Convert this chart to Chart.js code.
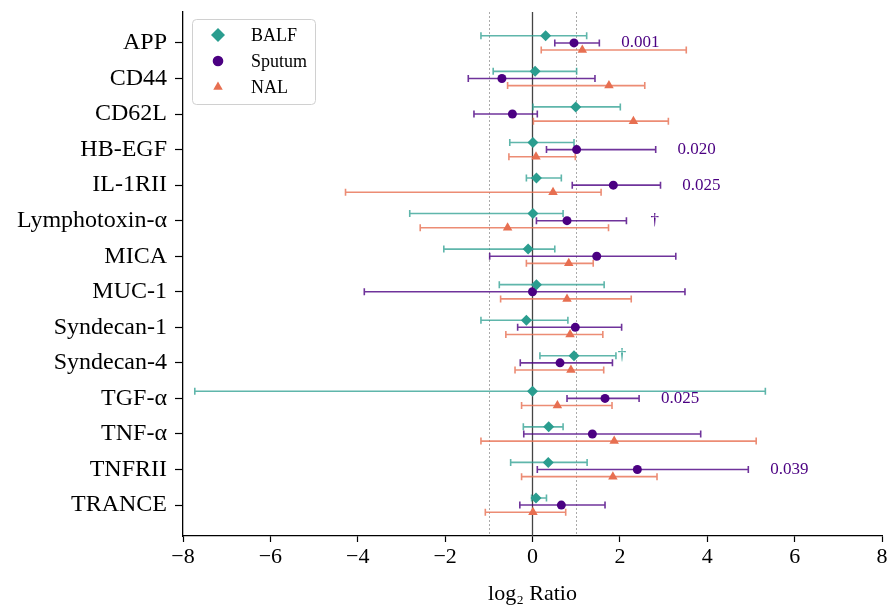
<!DOCTYPE html>
<html>
<head>
<meta charset="utf-8">
<script src="https://cdn.jsdelivr.net/npm/chart.js@4.4.0/dist/chart.umd.min.js"></script>
<style>
    html, body { margin: 0; padding: 0; background: #fff; }
    #wrap { width: 890px; height: 607px; }
</style>
</head>
<body>
<div id="wrap"><canvas id="myChart" width="890" height="607"></canvas></div>
<script>
const categories = ['APP', 'CD44', 'CD62L', 'HB-EGF', 'IL-1RII', 'Lymphotoxin-α', 'MICA', 'MUC-1',
    'Syndecan-1', 'Syndecan-4', 'TGF-α', 'TNF-α', 'TNFRII', 'TRANCE'];

// log2 ratio with lower / upper ends of the interval
const balfValues = [0.30, 0.06, 0.99, 0.01, 0.09, 0.01, -0.10, 0.09, -0.14, 0.95, 0.00, 0.37, 0.36, 0.08];
const balfLow = [-1.18, -0.90, 0.01, -0.52, -0.14, -2.81, -2.03, -0.76, -1.18, 0.17, -7.73, -0.21, -0.50, -0.02];
const balfHigh = [1.24, 1.01, 2.01, 0.95, 0.66, 0.70, 0.51, 1.64, 0.81, 1.91, 5.33, 0.70, 1.25, 0.32];

const sputumValues = [0.95, -0.70, -0.46, 1.01, 1.85, 0.79, 1.47, 0.00, 0.98, 0.63, 1.66, 1.37, 2.40, 0.66];
const sputumLow = [0.51, -1.47, -1.34, 0.32, 0.91, 0.09, -0.98, -3.85, -0.34, -0.28, 0.79, -0.20, 0.11, -0.29];
const sputumHigh = [1.53, 1.43, 0.11, 2.82, 2.93, 2.15, 3.28, 3.49, 2.04, 1.83, 2.44, 3.85, 4.94, 1.66];

const nalValues = [1.14, 1.75, 2.31, 0.08, 0.47, -0.57, 0.83, 0.79, 0.86, 0.88, 0.57, 1.87, 1.84, 0.01];
const nalLow = [0.20, -0.57, 0.02, -0.54, -4.28, -2.57, -0.14, -0.73, -0.61, -0.40, -0.25, -1.18, -0.25, -1.08];
const nalHigh = [3.52, 2.57, 3.11, 0.98, 1.57, 1.74, 1.39, 2.26, 1.61, 1.63, 1.82, 5.12, 2.85, 0.76];

// p-values / marks written next to the sputum and BALF intervals
const sputumP = ['0.001', null, null, '0.020', '0.025', null, null, null, null, null, '0.025', null, '0.039', null];
const sputumMark = [null, null, null, null, null, '†', null, null, null, null, null, null, null, null];
const balfMark = [null, null, null, null, null, null, null, null, null, '†', null, null, null, null];

const xTicks = [-8, -6, -4, -2, 0, 2, 4, 6, 8];

const FONT = "'Liberation Serif', 'Times New Roman', serif";

const series = [
    {label: 'BALF', values: balfValues, low: balfLow, high: balfHigh, offset: -0.2,
        color: '#2a9d8f', barColor: 'rgba(42,157,143,0.75)', style: 'rectRot', radius: 5.5},
    {label: 'Sputum', values: sputumValues, low: sputumLow, high: sputumHigh, offset: 0,
        color: '#4b0082', barColor: 'rgba(75,0,130,0.8)', style: 'circle', radius: 4.5},
    {label: 'NAL', values: nalValues, low: nalLow, high: nalHigh, offset: 0.2,
        color: '#e76f51', barColor: 'rgba(231,111,81,0.8)', style: 'triangle', radius: 5.5}
];

const errorBars = {
    id: 'errorBars',
    beforeDatasetsDraw(chart) {
        const {ctx, chartArea, scales: {x, y}} = chart;
        ctx.save();
        // reference lines at -1, 0, 1
        ctx.lineWidth = 1;
        ctx.strokeStyle = '#aaaaaa';
        ctx.setLineDash([2, 2]);
        [-1, 1].forEach(v => {
            const px = Math.round(x.getPixelForValue(v)) + 0.5;
            ctx.beginPath();
            ctx.moveTo(px, chartArea.top);
            ctx.lineTo(px, chartArea.bottom);
            ctx.stroke();
        });
        ctx.setLineDash([]);
        ctx.strokeStyle = '#444444';
        ctx.lineWidth = 1.3;
        const p0 = x.getPixelForValue(0);
        ctx.beginPath();
        ctx.moveTo(p0, chartArea.top);
        ctx.lineTo(p0, chartArea.bottom);
        ctx.stroke();

        const cap = 3.5;
        series.forEach(s => {
            ctx.strokeStyle = s.barColor;
            ctx.lineWidth = 1.6;
            s.low.forEach((lo, i) => {
                const py = y.getPixelForValue(i + s.offset);
                const x1 = x.getPixelForValue(lo);
                const x2 = x.getPixelForValue(s.high[i]);
                ctx.beginPath();
                ctx.moveTo(x1, py); ctx.lineTo(x2, py);
                ctx.moveTo(x1, py - cap); ctx.lineTo(x1, py + cap);
                ctx.moveTo(x2, py - cap); ctx.lineTo(x2, py + cap);
                ctx.stroke();
            });
        });
        ctx.restore();
    },
    afterDatasetsDraw(chart) {
        const {ctx, scales: {x, y}} = chart;
        ctx.save();
        ctx.textBaseline = 'middle';
        ctx.textAlign = 'left';
        ctx.font = '17px ' + FONT;
        ctx.fillStyle = '#4b0082';
        sputumP.forEach((t, i) => {
            if (!t) return;
            ctx.fillText(t, x.getPixelForValue(sputumHigh[i] + 0.5), y.getPixelForValue(i));
        });
        sputumMark.forEach((t, i) => {
            if (!t) return;
            ctx.fillText(t, x.getPixelForValue(sputumHigh[i] + 0.55), y.getPixelForValue(i));
        });
        ctx.fillStyle = '#2a9d8f';
        balfMark.forEach((t, i) => {
            if (!t) return;
            ctx.fillText(t, x.getPixelForValue(balfHigh[i] + 0.04), y.getPixelForValue(i - 0.2));
        });
        ctx.restore();
    },
    afterDraw(chart) {
        // legend box in the upper left corner of the plot
        const ctx = chart.ctx;
        ctx.save();
        const bx = 192, by = 19, bw = 123, bh = 85;
        ctx.beginPath();
        ctx.roundRect(bx + 0.5, by + 0.5, bw, bh, 4);
        ctx.fillStyle = 'rgba(255,255,255,0.8)';
        ctx.fill();
        ctx.strokeStyle = '#d0d0d0';
        ctx.lineWidth = 1;
        ctx.stroke();
        const legendRadius = {rectRot: 7, circle: 5.3, triangle: 5.5};
        series.forEach((s, k) => {
            const cy = by + 16 + k * 26;
            ctx.fillStyle = s.color;
            ctx.strokeStyle = s.color;
            Chart.helpers.drawPoint(ctx, {pointStyle: s.style, radius: legendRadius[s.style], borderWidth: 0}, 218, cy);
            ctx.fillStyle = '#000';
            ctx.font = '18px ' + FONT;
            ctx.textBaseline = 'middle';
            ctx.textAlign = 'left';
            ctx.fillText(s.label, 251, cy + 1);
        });
        ctx.restore();
    }
};

const datasets = series.map(s => ({
    label: s.label,
    data: s.values.map((v, i) => ({x: v, y: i + s.offset})),
    pointStyle: s.style,
    pointRadius: s.radius,
    pointBackgroundColor: s.color,
    pointBorderColor: s.color,
    pointBorderWidth: 0,
    showLine: false
}));

const config = {
    type: 'scatter',
    data: {datasets: datasets},
    options: {
        responsive: false,
        animation: false,
        layout: {padding: {left: 0, top: 12, right: 8, bottom: 0}},
        plugins: {legend: {display: false}, tooltip: {enabled: false}},
        scales: {
            x: {
                type: 'linear',
                min: -8,
                max: 8,
                afterBuildTicks: axis => { axis.ticks = xTicks.map(v => ({value: v})); },
                afterFit: axis => { axis.height = 71; },
                ticks: {
                    color: '#000',
                    font: {family: FONT, size: 22},
                    padding: 2,
                    callback: v => v < 0 ? '\u2212' + Math.abs(v) : String(v)
                },
                grid: {drawOnChartArea: false, tickLength: 6, tickColor: '#000', tickWidth: 1.2},
                border: {color: '#000', width: 1.3},
                title: {display: true, text: 'log₂ Ratio', color: '#000',
                    font: {family: FONT, size: 22}, padding: {top: 0, bottom: 0}}
            },
            y: {
                type: 'linear',
                min: -0.87,
                max: 13.87,
                reverse: true,
                afterBuildTicks: axis => { axis.ticks = categories.map((c, i) => ({value: i})); },
                afterFit: axis => {
                    axis.width = 183;
                    axis.paddingTop = 0;
                    axis.paddingBottom = 0;
                },
                ticks: {
                    color: '#000',
                    font: {family: FONT, size: 24},
                    padding: 8,
                    callback: v => categories[v]
                },
                grid: {drawOnChartArea: false, tickLength: 8, tickColor: '#000', tickWidth: 1.2},
                border: {color: '#000', width: 1.3}
            }
        }
    },
    plugins: [errorBars]
};

const chart = new Chart(document.getElementById('myChart').getContext('2d'), config);
</script>
</body>
</html>
